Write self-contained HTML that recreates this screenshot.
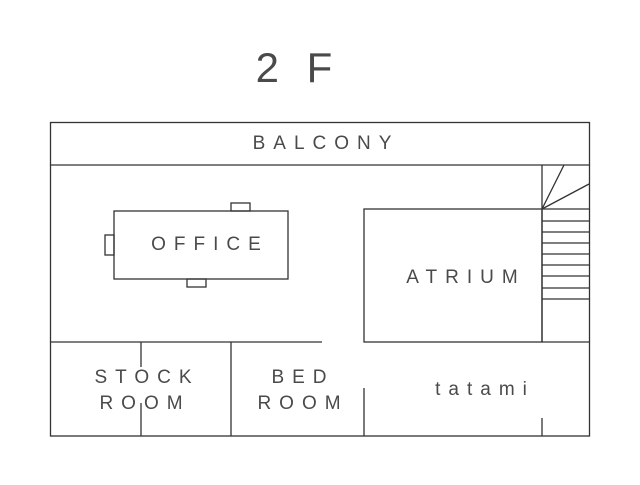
<!DOCTYPE html>
<html><head><style>
body{margin:0;background:#fff}
svg text{font-family:"Liberation Sans",sans-serif;fill:#4a4a4a}
</style></head><body>
<svg width="640" height="480" viewBox="0 0 640 480" xmlns="http://www.w3.org/2000/svg">
<text x="298" y="82" font-size="42" text-anchor="middle" letter-spacing="8" fill="#555">2 F</text>
<g stroke="#333" stroke-width="1.3" fill="none">
<rect x="50.5" y="122.5" width="539" height="313.5"/>
<line x1="50" y1="165" x2="589" y2="165"/>
<rect x="114" y="211" width="174" height="68"/>
<rect x="231" y="203" width="19" height="8"/>
<rect x="187" y="279" width="19" height="8"/>
<rect x="105" y="235" width="9" height="20"/>
<rect x="364" y="209" width="178" height="133"/>
<line x1="542" y1="165" x2="542" y2="342"/>
<line x1="542" y1="209" x2="589" y2="209"/>
<line x1="542" y1="342" x2="589" y2="342"/>
<line x1="542" y1="209" x2="564" y2="165"/>
<line x1="542" y1="209" x2="589" y2="184"/>
<line x1="542" y1="221" x2="589" y2="221"/>
<line x1="542" y1="232" x2="589" y2="232"/>
<line x1="542" y1="243" x2="589" y2="243"/>
<line x1="542" y1="254" x2="589" y2="254"/>
<line x1="542" y1="265" x2="589" y2="265"/>
<line x1="542" y1="276" x2="589" y2="276"/>
<line x1="542" y1="288" x2="589" y2="288"/>
<line x1="542" y1="299" x2="589" y2="299"/>
<line x1="50" y1="342" x2="322" y2="342"/>
<line x1="141" y1="342" x2="141" y2="367"/>
<line x1="141" y1="403" x2="141" y2="436"/>
<line x1="231" y1="342" x2="231" y2="436"/>
<line x1="364" y1="388" x2="364" y2="436"/>
<line x1="542" y1="418" x2="542" y2="436"/>
</g>
<g font-size="19" text-anchor="middle" letter-spacing="8">
<text x="326" y="149">BALCONY</text>
<text x="210" y="250">OFFICE</text>
<text x="466" y="283">ATRIUM</text>
<text x="147" y="383">STOCK</text>
<text x="145" y="409">ROOM</text>
<text x="303" y="383">BED</text>
<text x="303" y="409">ROOM</text>
<text x="485" y="395">tatami</text>
</g>
</svg>
</body></html>
